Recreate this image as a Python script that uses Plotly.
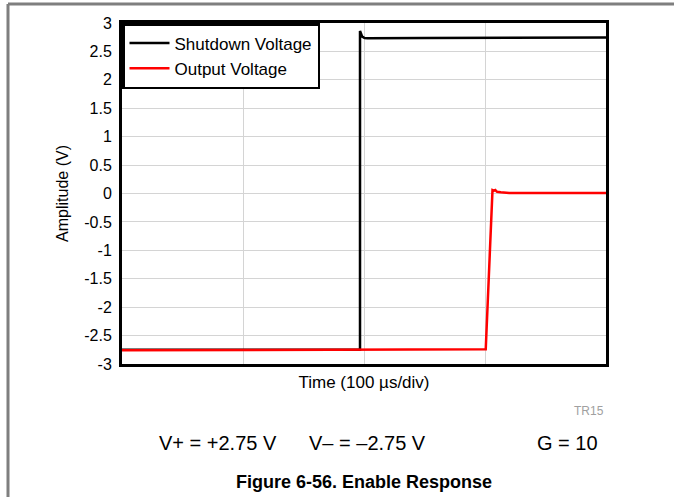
import plotly.graph_objects as go

# Time in microseconds (100 us/div, 4 divisions)
shutdown_t = [0, 100, 196.7, 196.7, 197.3, 198.5, 200.5, 203, 250, 300, 350, 400]
shutdown_v = [-2.75, -2.75, -2.75, 2.86, 2.82, 2.76, 2.735, 2.73, 2.735, 2.74, 2.745, 2.745]

output_t = [0, 100, 200, 250, 300.6, 306.2, 307.5, 308.5, 310, 313, 320, 350, 400]
output_v = [-2.76, -2.755, -2.75, -2.745, -2.74, 0.06, 0.05, 0.06, 0.03, 0.02, 0.01, 0.01, 0.01]

y_ticks = [-3, -2.5, -2, -1.5, -1, -0.5, 0, 0.5, 1, 1.5, 2, 2.5, 3]
y_tick_labels = ["-3", "-2.5", "-2", "-1.5", "-1", "-0.5", "0", "0.5", "1", "1.5", "2", "2.5", "3"]

W, H = 674, 497
L, R, T, B = 122, 68, 23, 133

fig = go.Figure()
fig.add_trace(go.Scatter(x=shutdown_t, y=shutdown_v, mode="lines", name="Shutdown Voltage",
                         line=dict(color="black", width=2.5)))
fig.add_trace(go.Scatter(x=output_t, y=output_v, mode="lines", name="Output Voltage",
                         line=dict(color="#ff0000", width=2.5)))

pw, ph = W - L - R, H - T - B
def px_x(p):
    return (p - L) / pw
def px_y(p):
    return 1 - (p - T) / ph

font = "Liberation Sans, Arial, Helvetica, sans-serif"

fig.update_layout(
    width=W, height=H,
    margin=dict(l=L, r=R, t=T, b=B),
    paper_bgcolor="white", plot_bgcolor="white",
    font=dict(family=font, size=16, color="black"),
    showlegend=True,
    legend=dict(x=0, y=1, xanchor="left", yanchor="top", bgcolor="white",
                bordercolor="black", borderwidth=2.5, font=dict(size=17),
                itemwidth=40, tracegroupgap=0),
    xaxis=dict(range=[0, 400], tickvals=[0, 100, 200, 300, 400], showticklabels=False,
               ticks="", showgrid=True, gridcolor="#d4d4d4", gridwidth=1.2,
               showline=True, linecolor="black", linewidth=3, mirror=True, zeroline=False,
               title=dict(text="Time (100 µs/div)", font=dict(size=17), standoff=11)),
    yaxis=dict(range=[-3, 3], tickvals=y_ticks, ticktext=y_tick_labels, ticks="",
               showgrid=True, gridcolor="#d4d4d4", gridwidth=1.2,
               showline=True, linecolor="black", linewidth=3, mirror=True, zeroline=False,
               tickfont=dict(size=16), ticklabelstandoff=4,
               title=dict(text="Amplitude (V)", font=dict(size=16), standoff=12)),
)

# frame lines of the figure page
fig.add_shape(type="line", xref="paper", yref="paper", x0=px_x(8), x1=px_x(674),
              y0=px_y(4), y1=px_y(4), line=dict(color="#7f7f7f", width=3))
fig.add_shape(type="line", xref="paper", yref="paper", x0=px_x(8), x1=px_x(8),
              y0=px_y(4), y1=px_y(497), line=dict(color="#7f7f7f", width=3))

def ann(text, xp, yp, size, color="black", bold=False, anchor="center"):
    fig.add_annotation(text=("<b>%s</b>" % text) if bold else text, xref="paper", yref="paper",
                       x=px_x(xp), y=px_y(yp), showarrow=False, xanchor=anchor, yanchor="middle",
                       font=dict(size=size, color=color, family=font))

ann("TR15", 606, 411, 12, color="#a0a0a0", anchor="right")
ann("V+ = +2.75 V", 218, 443, 20)
ann("V– = –2.75 V", 367, 443, 20)
ann("G = 10", 567, 443, 20)
ann("Figure 6-56. Enable Response", 364, 482, 18, bold=True)

fig.write_html("out.html", config={"displayModeBar": False},
               post_script="document.body.style.margin='0';document.body.style.overflow='hidden';")
